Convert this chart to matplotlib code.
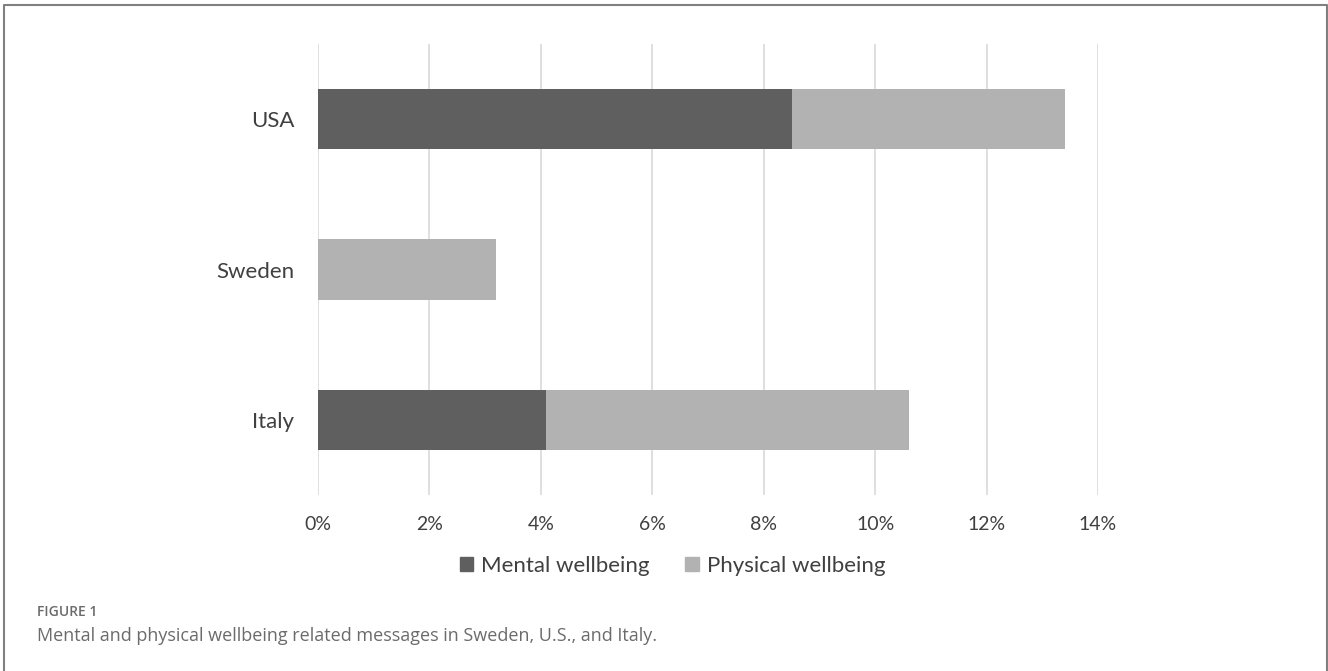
import matplotlib
matplotlib.use("Agg")
import matplotlib.pyplot as plt
from matplotlib.patches import Patch
from matplotlib.lines import Line2D

countries = ["Italy", "Sweden", "USA"]
mental = [4.1, 0.0, 8.5]
physical = [6.5, 3.2, 4.9]
xticks = [0, 2, 4, 6, 8, 10, 12, 14]
series_names = ["Mental wellbeing", "Physical wellbeing"]
dark = "#5f5f5f"
light = "#b2b2b2"

plt.rcParams['font.family'] = ['Lato', 'DejaVu Sans']

fig = plt.figure(figsize=(13.28, 6.71), dpi=100)
ax = fig.add_axes([318/1328, 1-495/671, 780/1328, 451/671])

ax.barh(countries, mental, height=0.4, color=dark, zorder=3)
ax.barh(countries, physical, left=mental, height=0.4, color=light, zorder=3)

ax.set_xlim(0, 14)
ax.set_ylim(-0.5, 2.5)
ax.set_xticks(xticks)
ax.set_xticklabels([f"{t}%" for t in xticks])
ax.grid(axis='x', color='#d9d9d9', linewidth=1.2, zorder=0)
for s in ax.spines.values():
    s.set_visible(False)
ax.tick_params(axis='both', length=0, labelcolor='#404040')
ax.tick_params(axis='x', labelsize=14, pad=15)
ax.tick_params(axis='y', labelsize=16, pad=17)

handles = [Patch(color=dark), Patch(color=light)]
fig.legend(handles, series_names, loc='center left',
           bbox_to_anchor=(460/1328, 1-566/671), ncol=2, frameon=False,
           borderpad=0, borderaxespad=0,
           fontsize=16, labelcolor='#404040', handlelength=0.6, handleheight=0.6,
           handletextpad=0.36, columnspacing=1.6)

fig.text(37/1328, 1-612/671, "FIGURE 1", fontsize=10, color='#6b6b6b',
         weight='semibold', family=['Open Sans', 'DejaVu Sans'], va='center')
fig.text(37/1328, 1-636/671,
         "Mental and physical wellbeing related messages in Sweden, U.S., and Italy.",
         fontsize=13, color='#6b6b6b', family=['Open Sans', 'DejaVu Sans'], va='center')

# figure frame (left, top, right)
fig.add_artist(Line2D([4/1328, 4/1328, 1327/1328, 1327/1328],
                      [0, 1-5/671, 1-5/671, 0], color='#808080', linewidth=1.5,
                      transform=fig.transFigure))

fig.savefig("out.png", dpi=100)
